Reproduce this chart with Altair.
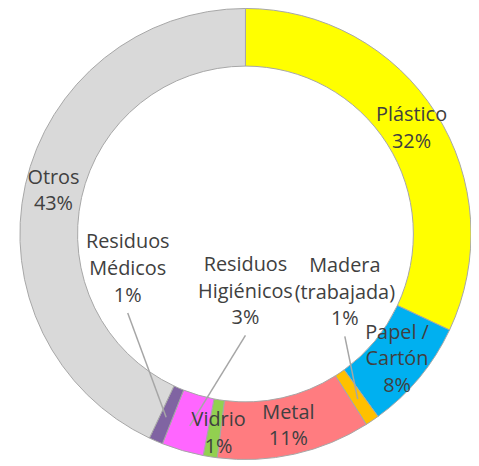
import math
import altair as alt
import pandas as pd

# ---- data ----
categories = ["Plástico", "Papel / Cartón", "Madera (trabajada)", "Metal",
              "Vidrio", "Residuos Higiénicos", "Residuos Médicos", "Otros"]
label_lines = ["Plástico", "Papel /\nCartón", "Madera\n(trabajada)", "Metal",
               "Vidrio", "Residuos\nHigiénicos", "Residuos\nMédicos", "Otros"]
values = [32, 8, 1, 11, 1, 3, 1, 43]
colors = ["#FFFF00", "#00B0F0", "#FFC000", "#FF7C80",
          "#92D050", "#FF66FF", "#8064A2", "#D9D9D9"]

# ---- layout ----
W, H = 454, 452
CX, CY = W / 2, H / 2
R_OUT, R_IN = 227, 169
R_LABEL = 198
R_LEADER = 201
LINE_H = 27
# label block offsets (from chart centre) for labels moved off their slice
label_override = {
    "Vidrio": (-27, 201),
    "Residuos Higiénicos": (0, 58),
    "Residuos Médicos": (-118.5, 35.5),
    "Madera (trabajada)": (100, 59),
}
leader_drop = 44

total = sum(values)
rows, txt, lines = [], [], []
cum = 0
for i, (c, v, lab) in enumerate(zip(categories, values, label_lines)):
    mid = (cum + v / 2) / total * 2 * math.pi
    cum += v
    rows.append({"cat": c, "value": v, "order": i})
    if c in label_override:
        dx, dy = label_override[c]
        x, y = CX + dx, CY + dy
    else:
        x = CX + R_LABEL * math.sin(mid)
        y = CY - R_LABEL * math.cos(mid)
    text = f"{lab}\n{v}%"
    n = text.count("\n") + 1
    txt.append({"cat": c, "x": x, "y": y - (n - 1) * LINE_H / 2, "label": text})
    if c in label_override and c != "Vidrio":
        lines.append({"cat": c, "x": x, "y": y + leader_drop,
                      "x2": CX + R_LEADER * math.sin(mid),
                      "y2": CY - R_LEADER * math.cos(mid)})

df = pd.DataFrame(rows)
tdf = pd.DataFrame(txt)
ldf = pd.DataFrame(lines)

arcs = alt.Chart(df).mark_arc(
    outerRadius=R_OUT, innerRadius=R_IN, stroke="#A6A6A6", strokeWidth=1
).encode(
    theta=alt.Theta("value:Q", stack=True),
    order=alt.Order("order:Q"),
    color=alt.Color("cat:N", scale=alt.Scale(domain=categories, range=colors), legend=None),
)

leaders = alt.Chart(ldf).mark_rule(color="#A6A6A6", strokeWidth=1.5).encode(
    x=alt.X("x:Q", scale=None), y=alt.Y("y:Q", scale=None),
    x2="x2:Q", y2="y2:Q",
)

labels = alt.Chart(tdf).mark_text(
    font="Open Sans", fontSize=20, color="#404040", lineBreak="\n",
    lineHeight=LINE_H, align="center", baseline="middle",
).encode(
    x=alt.X("x:Q", scale=None), y=alt.Y("y:Q", scale=None), text="label:N",
)

chart = alt.layer(arcs, leaders, labels).properties(
    width=W, height=H,
    padding={"left": 12, "top": 0, "right": 0, "bottom": 0},
    autosize=alt.AutoSizeParams(type="none"),
).configure_view(stroke=None)

chart.save("out.html", embed_options={"renderer": "svg", "actions": False})
